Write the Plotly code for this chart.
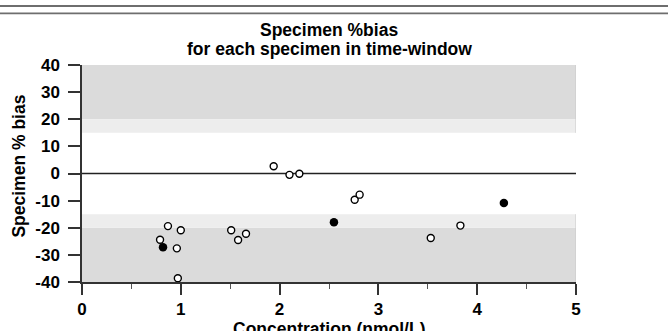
import plotly.graph_objects as go

# Specimen % bias against concentration
open_x = [0.79, 0.87, 1.00, 0.96, 0.97, 1.51, 1.58, 1.66, 1.94, 2.10, 2.20, 2.76, 2.81, 3.53, 3.83]
open_y = [-24.4, -19.4, -20.9, -27.6, -38.6, -20.9, -24.5, -22.2, 2.7, -0.5, -0.1, -9.7, -7.8, -23.8, -19.2]
filled_x = [0.82, 2.55, 4.27]
filled_y = [-27.2, -18.0, -10.9]

x_ticks = [0, 1, 2, 3, 4, 5]
y_ticks = [-40, -30, -20, -10, 0, 10, 20, 30, 40]

# limit bands: (low, high, colour)
bands = [(20, 40, "#dbdbdb"), (15, 20, "#ededed"),
         (-40, -20, "#dbdbdb"), (-20, -15, "#ededed")]

FONT = "Liberation Sans, Arial, Helvetica, sans-serif"
AXIS_COLOR = "#333333"

fig = go.Figure()
fig.add_trace(go.Scatter(
    x=open_x, y=open_y, mode="markers", cliponaxis=False,
    marker=dict(size=7, color="white", line=dict(color="black", width=1.4)),
    showlegend=False))
fig.add_trace(go.Scatter(
    x=filled_x, y=filled_y, mode="markers", cliponaxis=False,
    marker=dict(size=8.5, color="black", line=dict(width=0)),
    showlegend=False))

shapes = []
for lo, hi, col in bands:
    shapes.append(dict(type="rect", xref="x", yref="y", x0=0, x1=5, y0=lo, y1=hi,
                       fillcolor=col, line=dict(width=0), layer="below"))
# thin right edge of the bands
shapes.append(dict(type="line", xref="x", yref="y", x0=5, x1=5, y0=15, y1=40,
                   line=dict(color="#c8c8c8", width=1), layer="below"))
shapes.append(dict(type="line", xref="x", yref="y", x0=5, x1=5, y0=-40, y1=-15,
                   line=dict(color="#c8c8c8", width=1), layer="below"))
# zero line
shapes.append(dict(type="line", xref="x", yref="y", x0=0, x1=5, y0=0, y1=0,
                   line=dict(color="#222222", width=1.5), layer="below"))
# double rule across the top of the page
for yp in (1.2719, 1.2382):
    shapes.append(dict(type="line", xref="paper", yref="paper", x0=-0.17, x1=1.19,
                       y0=yp, y1=yp, line=dict(color="#6e6e6e", width=1.8)))

annotations = [
    dict(text="Specimen %bias", x=0.5, y=1.1613, xref="paper", yref="paper",
         xanchor="center", yanchor="middle", showarrow=False,
         font=dict(family=FONT, size=17.5, color="black", weight="bold")),
    dict(text="for each specimen in time-window", x=0.5, y=1.0737, xref="paper", yref="paper",
         xanchor="center", yanchor="middle", showarrow=False,
         font=dict(family=FONT, size=17.5, color="black", weight="bold")),
    dict(text="Concentration (nmol/L)", x=0.5, y=-0.2166, xref="paper", yref="paper",
         xanchor="center", yanchor="middle", showarrow=False,
         font=dict(family=FONT, size=17.5, color="black", weight="bold")),
    dict(text="Specimen % bias", x=-0.1275, y=0.532, xref="paper", yref="paper",
         xanchor="center", yanchor="middle", showarrow=False, textangle=-90,
         font=dict(family=FONT, size=17.5, color="black", weight="bold")),
]

fig.update_layout(
    width=668, height=331,
    margin=dict(l=82, r=92, t=65, b=49, pad=0),
    paper_bgcolor="white", plot_bgcolor="white",
    shapes=shapes, annotations=annotations,
    font=dict(family=FONT, color="black"),
)
fig.update_xaxes(
    range=[0, 5], tickvals=x_ticks, ticktext=[str(v) for v in x_ticks],
    showgrid=False, zeroline=False, showline=True, linecolor=AXIS_COLOR, linewidth=1.5,
    ticks="outside", ticklen=11, tickwidth=1.5, tickcolor=AXIS_COLOR,
    tickfont=dict(family=FONT, size=17, color="black", weight="bold"),
    minor=dict(dtick=0.5, ticks="outside", ticklen=5, tickwidth=1, tickcolor="#555555"),
)
fig.update_yaxes(
    range=[-40, 40], tickvals=y_ticks, ticktext=[str(v) for v in y_ticks],
    showgrid=False, zeroline=False, showline=True, linecolor=AXIS_COLOR, linewidth=1.5,
    ticks="outside", ticklen=12, tickwidth=1.5, tickcolor=AXIS_COLOR,
    ticklabelstandoff=5,
    tickfont=dict(family=FONT, size=17, color="black", weight="bold"),
)

fig.write_html("out.html")
